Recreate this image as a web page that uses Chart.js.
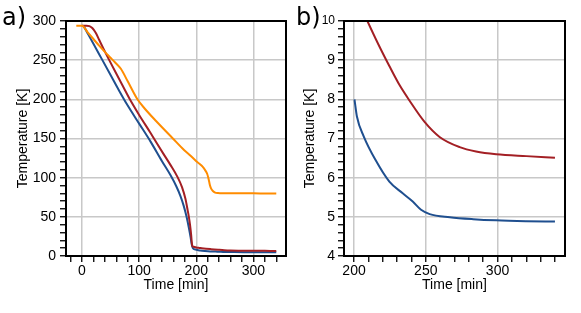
<!DOCTYPE html>
<html>
<head>
<meta charset="utf-8">
<script src="https://cdn.jsdelivr.net/npm/chart.js@4.4.0/dist/chart.umd.min.js"></script>
<style>
  body { margin: 0; background: #fff; width: 581px; height: 313px; position: relative; overflow: hidden; }
  .wrap { position: absolute; top: 0; height: 313px; }
  #wrapA { left: 0; width: 290px; }
  #wrapB { left: 290px; width: 291px; }
  .lbl { position: absolute; top: 5px; font-family: "DejaVu Sans", sans-serif; font-size: 24px; line-height: 24px; color: #000; }
</style>
</head>
<body>
<div class="wrap" id="wrapA"><canvas id="chartA" width="290" height="313"></canvas></div>
<div class="wrap" id="wrapB"><canvas id="chartB" width="291" height="313"></canvas></div>
<div class="lbl" style="left:2px">a)</div>
<div class="lbl" style="left:296px">b)</div>
<script>
// data (time in min, temperature in K)
const blueTime = [0, 3, 10, 20, 35, 50, 65, 80, 100, 120, 140, 155, 165, 172, 178, 183, 187, 190, 192, 194, 196, 200.3, 202, 206.8, 215, 224.6, 233.9, 240.9, 246.7, 252.7, 266.7, 283, 299, 320, 340];
const blueTemp = [294, 293, 284, 271, 251, 231, 211, 192, 169, 146, 121, 103, 89, 77, 64, 50, 36, 24, 15, 10, 8.9, 8.0, 7.56, 7.05, 6.45, 5.9, 5.6, 5.39, 5.18, 5.07, 4.99, 4.94, 4.91, 4.89, 4.88];

const redTime = [0, 8, 13, 18, 24, 30, 38, 47, 65, 83, 100, 120, 142, 155, 167, 175, 181, 185, 187, 189, 191, 192, 193, 195, 200, 205, 209.3, 217, 224.6, 231.6, 238.6, 249, 259.6, 273.6, 285, 299, 320, 340];
const redTemp = [294, 294, 293.5, 291, 285, 276, 264, 251, 226, 201, 180, 157, 131, 116, 101, 88, 73, 58, 50, 40, 27, 18, 13, 11.8, 10.9, 10.35, 10.0, 9.4, 8.85, 8.37, 7.97, 7.43, 7.04, 6.78, 6.67, 6.6, 6.55, 6.51];

const orangeTime = [-10, 0, 10, 20, 30, 42, 50, 58, 68, 80, 97, 110, 130, 159, 179, 190, 200, 205, 211, 216, 219, 221, 222.5, 224, 226, 229, 233, 238, 245, 260, 280, 300, 320, 340];
const orangeTemp = [294, 294, 285.5, 277, 268.5, 259, 253, 247, 239, 223, 200, 188, 172, 150, 135, 128, 121, 118, 114, 109, 105, 100, 95, 90, 86, 83, 81, 80.3, 80, 80, 80, 80, 79.8, 79.7];

// zoom panel starts at 200 min
const zoomStart = 200;

const BLUE = "#1f4f8f";
const RED = "#a31f24";
const ORANGE = "#ff8c00";
const GRID = "#c8c8c8";
const FONT = "'Liberation Sans', Arial, sans-serif";

function pts(t, v, from) {
  const out = [];
  for (let i = 0; i < t.length; i++) {
    if (from === undefined || t[i] >= from) out.push({ x: t[i], y: v[i] });
  }
  return out;
}

function isMultiple(v, m) {
  const r = v / m;
  return Math.abs(r - Math.round(r)) < 1e-6;
}

const frame = {
  id: "frame",
  afterDraw(chart) {
    const a = chart.chartArea;
    const c = chart.ctx;
    c.save();
    c.strokeStyle = "#000";
    c.lineWidth = 2;
    c.strokeRect(a.left, a.top, a.right - a.left, a.bottom - a.top);
    c.restore();
  },
};

function axis(opts) {
  return {
    type: "linear",
    min: opts.min,
    max: opts.max,
    border: { display: true, color: "#000", width: 2 },
    grid: {
      color: (ctx) => (ctx.tick && isMultiple(ctx.tick.value, opts.major) ? GRID : "rgba(0,0,0,0)"),
      lineWidth: 1.5,
      tickColor: "#000",
      tickLength: 6,
      tickWidth: 1.3,
    },
    ticks: {
      stepSize: opts.step,
      includeBounds: false,
      autoSkip: false,
      maxRotation: 0,
      padding: opts.pad,
      color: "#000",
      font: opts.font || { family: FONT, size: 14 },
      callback: (v) => (isMultiple(v, opts.major) ? String(Math.round(v)) : ""),
    },
    title: {
      display: true,
      text: opts.title,
      color: "#000",
      font: { family: FONT, size: 14 },
      padding: opts.titlePad,
    },
    afterFit: opts.fit,
  };
}

function lineSet(data, color) {
  return {
    data: data,
    borderColor: color,
    borderWidth: 2,
    pointRadius: 0,
    fill: false,
    cubicInterpolationMode: "monotone",
  };
}

const common = {
  responsive: false,
  animation: false,
  events: [],
  plugins: { legend: { display: false }, tooltip: { enabled: false } },
};

new Chart(document.getElementById("chartA"), {
  type: "line",
  data: {
    datasets: [
      lineSet(pts(orangeTime, orangeTemp), ORANGE),
      lineSet(pts(redTime, redTemp), RED),
      lineSet(pts(blueTime, blueTemp), BLUE),
    ],
  },
  options: Object.assign({}, common, {
    layout: { padding: { top: 21, right: 4, left: 0, bottom: 0 } },
    scales: {
      x: axis({ min: -28, max: 357, step: 20, major: 100, pad: 1, title: "Time [min]",
        titlePad: { top: 0, bottom: 19 }, fit: (s) => { s.height = 57; } }),
      y: axis({ min: 0, max: 300, step: 10, major: 50, pad: 4, title: "Temperature [K]",
        titlePad: { top: 15, bottom: 0 }, fit: (s) => { s.width = 66; } }),
    },
  }),
  plugins: [frame],
});

new Chart(document.getElementById("chartB"), {
  type: "line",
  data: {
    datasets: [
      lineSet(pts(redTime, redTemp, zoomStart), RED),
      lineSet(pts(blueTime, blueTemp, zoomStart), BLUE),
    ],
  },
  options: Object.assign({}, common, {
    layout: { padding: { top: 21, right: 16, left: 0, bottom: 0 } },
    scales: {
      x: axis({ min: 193, max: 347, step: 10, major: 50, pad: 1, title: "Time [min]",
        titlePad: { top: 0, bottom: 19 }, fit: (s) => { s.height = 57; } }),
      y: axis({ min: 4, max: 10, step: 0.2, major: 1, pad: 3, title: "Temperature [K]",
        titlePad: { top: 12, bottom: 0 }, fit: (s) => { s.width = 54; },
        font: (ctx) => ({ family: FONT, size: ctx.tick && ctx.tick.value === 10 ? 12 : 14 }) }),
    },
  }),
  plugins: [frame],
});
</script>
</body>
</html>
